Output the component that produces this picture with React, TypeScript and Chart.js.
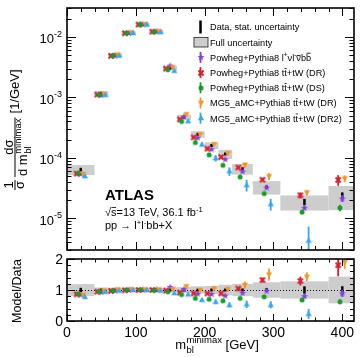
import React, { useEffect, useRef } from "react";
import { Chart, registerables } from "chart.js";

Chart.register(...registerables);

const FONT = '"Liberation Sans", Arimo, Arial, Helvetica, sans-serif';

// m_bl^minimax bin edges [GeV]
const binEdges = [0, 40, 60, 80, 100, 120, 140, 160, 180, 200, 220, 240, 270, 310, 380, 420];

// Unfolded normalised cross-section [1/GeV] with relative uncertainties
const dataXsec = [6.4e-5, 1.17e-3, 5.0e-3, 1.16e-2, 1.6e-2, 1.22e-2, 3.05e-3, 4.7e-4, 2.45e-4, 1.6e-4, 1.16e-4, 6.6e-5, 3.3e-5, 1.87e-5, 2.4e-5];
const dataStatRel = [0.07, 0.02, 0.015, 0.01, 0.01, 0.01, 0.015, 0.025, 0.03, 0.035, 0.04, 0.05, 0.06, 0.12, 0.12];
const dataTotalRel = [0.19, 0.08, 0.07, 0.07, 0.07, 0.07, 0.08, 0.1, 0.12, 0.13, 0.17, 0.2, 0.25, 0.28, 0.43];

// Predictions [1/GeV] and their relative MC statistical uncertainties
const powhegBb4l = [5.44e-5, 1.09e-3, 4.9e-3, 1.16e-2, 1.62e-2, 1.24e-2, 3.36e-3, 4.84e-4, 2.16e-4, 1.39e-4, 9.5e-5, 6.0e-5, 3.23e-5, 1.5e-5, 2.14e-5];
const powhegBb4lErr = [0.03, 0.01, 0.01, 0.01, 0.01, 0.01, 0.015, 0.02, 0.025, 0.03, 0.035, 0.04, 0.05, 0.08, 0.13];

const powhegDR = [5.5e-5, 1.11e-3, 4.85e-3, 1.15e-2, 1.6e-2, 1.22e-2, 2.99e-3, 4.32e-4, 2.18e-4, 1.42e-4, 1.03e-4, 6.93e-5, 4.36e-5, 2.41e-5, 4.32e-5];
const powhegDRErr = [0.03, 0.01, 0.01, 0.01, 0.01, 0.01, 0.015, 0.02, 0.025, 0.03, 0.035, 0.04, 0.06, 0.11, 0.2];

const powhegDS = [5.57e-5, 1.1e-3, 4.9e-3, 1.16e-2, 1.6e-2, 1.21e-2, 2.87e-3, 4.0e-4, 1.79e-4, 1.12e-4, 7.54e-5, 4.82e-5, 2.57e-5, 1.27e-5, 1.49e-5];
const powhegDSErr = [0.03, 0.01, 0.01, 0.01, 0.01, 0.01, 0.015, 0.02, 0.03, 0.035, 0.04, 0.05, 0.06, 0.08, 0.12];

const amcDR = [5.44e-5, 1.15e-3, 5.1e-3, 1.19e-2, 1.63e-2, 1.24e-2, 3.14e-3, 5.26e-4, 2.45e-4, 1.68e-4, 1.19e-4, 7.66e-5, 4.95e-5, 2.67e-5, 4.56e-5];
const amcDRErr = [0.04, 0.015, 0.01, 0.01, 0.01, 0.01, 0.02, 0.04, 0.05, 0.06, 0.07, 0.1, 0.13, 0.1, 0.12];

const amcDR2 = [4.99e-5, 1.1e-3, 4.9e-3, 1.16e-2, 1.6e-2, 1.2e-2, 2.75e-3, 4.04e-4, 1.67e-4, 9.9e-5, 6.0e-5, 3.56e-5, 1.72e-5, 4.3e-6, null];
const amcDR2Err = [0.05, 0.02, 0.01, 0.01, 0.01, 0.01, 0.02, 0.06, 0.08, 0.12, 0.16, 0.22, 0.22, 0.7, null];

// Axis ranges and tick labels
const X_MIN = 0;
const X_MAX = 417;
const Y_MIN = 3e-6;
const Y_MAX = 3e-2;
const xTickLabels = [0, 100, 200, 300, 400];
const yDecadeExps = [-5, -4, -3, -2];
const ratioTickLabels = [0, 1, 2];

type Seg = { t: string; sup?: boolean; sub?: boolean; bar?: number };

const MODELS: { name: Seg[]; values: (number | null)[]; err: (number | null)[]; color: string; marker: string; shift: number }[] = [
  {
    name: [{ t: "Powheg+Pythia8 l" }, { t: "+", sup: true }, { t: "νl" }, { t: "-", sup: true }, { t: "ν", bar: 0.62 }, { t: "b" }, { t: "b", bar: 0.86 }],
    values: powhegBb4l, err: powhegBb4lErr, color: "#8040dd", marker: "star", shift: 0,
  },
  {
    name: [{ t: "Powheg+Pythia8 t" }, { t: "t", bar: 0.86 }, { t: "+tW (DR)" }],
    values: powhegDR, err: powhegDRErr, color: "#d8202f", marker: "cross", shift: -6,
  },
  {
    name: [{ t: "Powheg+Pythia8 t" }, { t: "t", bar: 0.86 }, { t: "+tW (DS)" }],
    values: powhegDS, err: powhegDSErr, color: "#1c9a2a", marker: "circle", shift: -3.5,
  },
  {
    name: [{ t: "MG5_aMC+Pythia8 t" }, { t: "t", bar: 0.86 }, { t: "+tW (DR)" }],
    values: amcDR, err: amcDRErr, color: "#f0962a", marker: "triDown", shift: 3.5,
  },
  {
    name: [{ t: "MG5_aMC+Pythia8 t" }, { t: "t", bar: 0.86 }, { t: "+tW (DR2)" }],
    values: amcDR2, err: amcDR2Err, color: "#3aa6ee", marker: "triUp", shift: 6,
  },
];

const BOX_COLOR = "#cdcdcd";

function fontStr(size: number, bold = false) {
  return `${bold ? "bold " : ""}${size}px ${FONT}`;
}

function drawRich(ctx: CanvasRenderingContext2D, x: number, y: number, segs: Seg[], size: number) {
  let cx = x;
  for (const s of segs) {
    const sz = s.sup || s.sub ? size * 0.7 : size;
    ctx.font = fontStr(sz);
    const dy = s.sup ? -size * 0.4 : s.sub ? size * 0.25 : 0;
    const w = ctx.measureText(s.t).width;
    ctx.fillText(s.t, cx, y + dy);
    if (s.bar) {
      ctx.fillRect(cx + w * 0.08, y + dy - s.bar * sz, w * 0.84, Math.max(0.8, sz * 0.07));
    }
    cx += w;
  }
  return cx - x;
}

function makeMarker(kind: string, color: string): HTMLCanvasElement {
  const n = 10;
  const c = document.createElement("canvas");
  c.width = n;
  c.height = n;
  const g = c.getContext("2d")!;
  const m = n / 2;
  g.fillStyle = color;
  g.strokeStyle = color;
  g.beginPath();
  if (kind === "star") {
    const R = 3.7, r = 1.5;
    for (let i = 0; i < 10; i++) {
      const ang = -Math.PI / 2 + (i * Math.PI) / 5;
      const rr = i % 2 === 0 ? R : r;
      const px = m + rr * Math.cos(ang), py = m + 0.3 + rr * Math.sin(ang);
      if (i === 0) g.moveTo(px, py);
      else g.lineTo(px, py);
    }
    g.closePath();
    g.fill();
  } else if (kind === "cross") {
    g.lineWidth = 2.2;
    const h = 2.5;
    g.moveTo(m - h, m - h);
    g.lineTo(m + h, m + h);
    g.moveTo(m + h, m - h);
    g.lineTo(m - h, m + h);
    g.stroke();
  } else if (kind === "circle") {
    g.arc(m, m, 2.5, 0, Math.PI * 2);
    g.fill();
  } else if (kind === "triUp") {
    g.moveTo(m, m - 3.3);
    g.lineTo(m + 3.1, m + 2.3);
    g.lineTo(m - 3.1, m + 2.3);
    g.closePath();
    g.fill();
  } else {
    g.moveTo(m, m + 3.3);
    g.lineTo(m + 3.1, m - 2.3);
    g.lineTo(m - 3.1, m - 2.3);
    g.closePath();
    g.fill();
  }
  return c;
}

// Vertical error bars, drawn just beneath each dataset's markers
const errorBarPlugin = {
  id: "errorBars",
  beforeDatasetDraw(chart: any, args: any) {
    const ds = chart.data.datasets[args.index];
    if (!ds.errColor) return;
    const meta = args.meta;
    const ys = chart.scales.y;
    const a = chart.chartArea;
    const ctx = chart.ctx;
    ctx.save();
    ctx.beginPath();
    ctx.rect(a.left, a.top, a.right - a.left, a.bottom - a.top);
    ctx.clip();
    ctx.fillStyle = ds.errColor;
    meta.data.forEach((el: any, i: number) => {
      const p = ds.data[i];
      let top = ys.getPixelForValue(p.hi);
      let bot = ys.getPixelForValue(p.lo);
      const minHalf = ds.minHalf || 0;
      if (bot - top < 2 * minHalf) {
        top = el.y - minHalf;
        bot = el.y + minHalf;
      }
      ctx.fillRect(el.x - ds.errWidth / 2, top, ds.errWidth, bot - top);
    });
    ctx.restore();
  },
};

function boxesPlugin(isRatio: boolean) {
  return {
    id: "uncBoxes",
    beforeDatasetsDraw(chart: any) {
      const { ctx, chartArea: a, scales } = chart;
      const xs = scales.x, ys = scales.y;
      ctx.save();
      ctx.beginPath();
      ctx.rect(a.left, a.top, a.right - a.left, a.bottom - a.top);
      ctx.clip();
      ctx.fillStyle = BOX_COLOR;
      for (let i = 0; i < dataXsec.length; i++) {
        const c = isRatio ? 1 : dataXsec[i];
        const x1 = xs.getPixelForValue(binEdges[i]);
        const x2 = xs.getPixelForValue(binEdges[i + 1]);
        const y1 = ys.getPixelForValue(c * (1 + dataTotalRel[i]));
        const y2 = ys.getPixelForValue(c * (1 - dataTotalRel[i]));
        ctx.fillRect(x1, y1, x2 - x1, y2 - y1);
      }
      if (isRatio) {
        const py = Math.round(ys.getPixelForValue(1)) + 0.5;
        ctx.strokeStyle = "#000";
        ctx.lineWidth = 1;
        ctx.setLineDash([1, 2]);
        ctx.beginPath();
        ctx.moveTo(a.left, py);
        ctx.lineTo(a.right, py);
        ctx.stroke();
      }
      ctx.restore();
    },
  };
}

function xTicks(ctx: CanvasRenderingContext2D, xs: any, a: any, major: number, minor: number) {
  for (let v = X_MIN; v <= X_MAX; v += 20) {
    const px = Math.round(xs.getPixelForValue(v)) + 0.5;
    const len = v % 100 === 0 ? major : minor;
    ctx.moveTo(px, a.bottom);
    ctx.lineTo(px, a.bottom - len);
    ctx.moveTo(px, a.top);
    ctx.lineTo(px, a.top + len);
  }
}

function mainDecor(markers: HTMLCanvasElement[]) {
  return {
    id: "mainDecor",
    afterDraw(chart: any) {
      const { ctx, chartArea: a, scales } = chart;
      const xs = scales.x, ys = scales.y;
      ctx.save();
      ctx.strokeStyle = "#000";
      ctx.fillStyle = "#000";
      ctx.textBaseline = "alphabetic";
      ctx.textAlign = "left";

      // ticks
      ctx.lineWidth = 1;
      ctx.beginPath();
      xTicks(ctx, xs, a, 8, 4);
      for (let d = -6; d <= -2; d++) {
        for (let k = 1; k <= 9; k++) {
          const v = k * Math.pow(10, d);
          if (v < Y_MIN * 0.999 || v > Y_MAX * 1.001) continue;
          const py = Math.round(ys.getPixelForValue(v)) + 0.5;
          const len = k === 1 ? 9 : 4.5;
          ctx.moveTo(a.left, py);
          ctx.lineTo(a.left + len, py);
          ctx.moveTo(a.right, py);
          ctx.lineTo(a.right - len, py);
        }
      }
      ctx.stroke();
      ctx.lineWidth = 1.6;
      ctx.strokeRect(a.left, a.top, a.right - a.left, a.bottom - a.top);

      // y tick labels 10^n
      for (const e of yDecadeExps) {
        const py = ys.getPixelForValue(Math.pow(10, e));
        ctx.font = fontStr(9);
        const ex = String(e);
        const we = ctx.measureText(ex).width;
        ctx.font = fontStr(13);
        const wb = ctx.measureText("10").width;
        const right = 62;
        ctx.fillText("10", right - we - wb, py + 6.3);
        ctx.font = fontStr(9);
        ctx.fillText(ex, right - we, py);
      }

      // y title: 1/σ dσ/dm [1/GeV]
      {
        const F = 13, S = 9.5;
        ctx.save();
        ctx.translate(19, 190);
        ctx.rotate(-Math.PI / 2);
        const bar = -4;
        let u = 0;
        ctx.font = fontStr(F);
        const w1 = ctx.measureText("1").width, wS = ctx.measureText("σ").width;
        const fw1 = Math.max(w1, wS) + 2;
        ctx.fillText("1", u + (fw1 - w1) / 2, bar - 2.5);
        ctx.fillText("σ", u + (fw1 - wS) / 2, bar + 2.5 + 0.53 * F);
        ctx.fillRect(u, bar - 0.5, fw1, 1);
        u += fw1 + 3;
        const wn = ctx.measureText("dσ").width;
        const wdm = ctx.measureText("d m").width;
        ctx.font = fontStr(S);
        const wsp = Math.max(ctx.measureText("minimax").width, ctx.measureText("bl").width);
        const wden = wdm + 0.5 + wsp;
        const fw2 = Math.max(wn, wden) + 2;
        const denBase = bar + 2.5 + 0.72 * F;
        const dx = u + (fw2 - wden) / 2;
        ctx.font = fontStr(F);
        ctx.fillText("d m", dx, denBase);
        ctx.fillText("dσ", u + (fw2 - wn) / 2, bar - 2.5);
        ctx.font = fontStr(S);
        ctx.fillText("minimax", dx + wdm + 0.5, denBase - 0.45 * F);
        ctx.fillText("bl", dx + wdm + 0.5, denBase + 0.28 * F);
        ctx.fillRect(u, bar - 0.5, fw2, 1);
        u += fw2 + 4;
        ctx.font = fontStr(F);
        ctx.fillText("[1/GeV]", u, 0);
        ctx.restore();
      }

      // ATLAS label
      ctx.font = fontStr(15, true);
      ctx.fillText("ATLAS", 105, 200);
      drawRich(ctx, 105, 216, [{ t: "√" }, { t: "s", bar: 0.8 }, { t: "=13 TeV, 36.1 fb" }, { t: "-1", sup: true }], 11);
      drawRich(ctx, 105, 229, [{ t: "pp → l" }, { t: "+", sup: true }, { t: "l" }, { t: "-", sup: true }, { t: "bb+X" }], 11);

      // legend
      const LX = 200.5, TX = 210;
      const rows = [27, 42.2, 57.4, 72.6, 87.8, 103, 118.2];
      const LS = 9.2;
      ctx.fillStyle = "#000";
      ctx.fillRect(LX - 1.25, rows[0] - 6.5, 2.5, 13);
      drawRich(ctx, TX, rows[0] + 3.3, [{ t: "Data, stat. uncertainty" }], LS);
      ctx.fillStyle = BOX_COLOR;
      ctx.fillRect(194, rows[1] - 4.8, 14, 9.6);
      ctx.strokeStyle = "#333";
      ctx.lineWidth = 0.9;
      ctx.strokeRect(194, rows[1] - 4.8, 14, 9.6);
      ctx.fillStyle = "#000";
      drawRich(ctx, TX, rows[1] + 3.3, [{ t: "Full uncertainty" }], LS);
      MODELS.forEach((m, k) => {
        const y = rows[k + 2];
        ctx.fillStyle = m.color;
        ctx.fillRect(LX - 0.9, y - 5.5, 1.8, 11);
        ctx.drawImage(markers[k], Math.round(LX) - 5, Math.round(y) - 5);
        ctx.fillStyle = "#000";
        drawRich(ctx, TX, y + 3.3, m.name, LS);
      });
      ctx.restore();
    },
  };
}

const ratioDecor = {
  id: "ratioDecor",
  afterDraw(chart: any) {
    const { ctx, chartArea: a, scales } = chart;
    const xs = scales.x, ys = scales.y;
    ctx.save();
    ctx.strokeStyle = "#000";
    ctx.fillStyle = "#000";
    ctx.textBaseline = "alphabetic";
    ctx.lineWidth = 1;
    ctx.beginPath();
    xTicks(ctx, xs, a, 7, 3.5);
    for (let i = 0; i <= 10; i++) {
      const v = i * 0.2;
      const py = Math.round(ys.getPixelForValue(v)) + 0.5;
      const len = i % 5 === 0 ? 8 : 4;
      ctx.moveTo(a.left, py);
      ctx.lineTo(a.left + len, py);
      ctx.moveTo(a.right, py);
      ctx.lineTo(a.right - len, py);
    }
    ctx.stroke();
    ctx.lineWidth = 1.6;
    ctx.strokeRect(a.left, a.top, a.right - a.left, a.bottom - a.top);

    // tick labels
    ctx.font = fontStr(14);
    ctx.textAlign = "right";
    for (const v of ratioTickLabels) {
      ctx.fillText(String(v), 63, ys.getPixelForValue(v) + 5);
    }
    ctx.textAlign = "center";
    for (const v of xTickLabels) {
      ctx.fillText(String(v), xs.getPixelForValue(v), 337);
    }
    ctx.textAlign = "left";

    // x title
    {
      const F = 13, S = 9.5;
      ctx.font = fontStr(F);
      const wm = ctx.measureText("m").width;
      const wg = ctx.measureText(" [GeV]").width;
      ctx.font = fontStr(S);
      const wsp = Math.max(ctx.measureText("minimax").width, ctx.measureText("bl").width);
      const total = wm + 0.5 + wsp + wg;
      const x0 = 217 - total / 2;
      const base = 349;
      ctx.font = fontStr(F);
      ctx.fillText("m", x0, base);
      ctx.fillText(" [GeV]", x0 + wm + 0.5 + wsp, base);
      ctx.font = fontStr(S);
      ctx.fillText("minimax", x0 + wm + 0.5, base - 0.5 * F);
      ctx.fillText("bl", x0 + wm + 0.5, base + 0.3 * F);
    }

    // y title
    ctx.save();
    ctx.translate(21, 291);
    ctx.rotate(-Math.PI / 2);
    ctx.textAlign = "center";
    ctx.font = fontStr(12.5);
    ctx.fillText("Model/Data", 0, 0);
    ctx.restore();
    ctx.restore();
  },
};

function baseOptions(padding: any, yScale: any) {
  return {
    animation: false,
    responsive: false,
    devicePixelRatio: 1,
    events: [],
    layout: { padding },
    scales: {
      x: { type: "linear", min: X_MIN, max: X_MAX, display: false },
      y: { ...yScale, display: false },
    },
    plugins: { legend: { display: false }, tooltip: { enabled: false } },
  };
}

export default function App() {
  const mainRef = useRef<HTMLCanvasElement>(null);
  const ratioRef = useRef<HTMLCanvasElement>(null);

  useEffect(() => {
    const markers = MODELS.map((m) => makeMarker(m.marker, m.color));
    const centers = binEdges.slice(0, -1).map((e, i) => (e + binEdges[i + 1]) / 2);

    const mainSets: any[] = [
      {
        label: "Data",
        data: centers.map((x, i) => ({ x, y: dataXsec[i], lo: dataXsec[i] * (1 - dataStatRel[i]), hi: dataXsec[i] * (1 + dataStatRel[i]) })),
        pointRadius: 0,
        errColor: "#000",
        errWidth: 2.5,
        minHalf: 1.5,
        order: 10,
      },
    ];
    const ratioSets: any[] = [
      {
        label: "Data",
        data: centers.map((x, i) => ({ x, y: 1, lo: 1 - dataStatRel[i], hi: 1 + dataStatRel[i] })),
        pointRadius: 0,
        errColor: "#000",
        errWidth: 2.5,
        minHalf: 1.5,
        order: 10,
      },
    ];
    MODELS.forEach((m, k) => {
      const pts: any[] = [];
      const rpts: any[] = [];
      m.values.forEach((v, i) => {
        if (v == null) return;
        const e = m.err[i] as number;
        pts.push({ x: centers[i] + m.shift, y: v, lo: v * (1 - e), hi: v * (1 + e) });
        const r = v / dataXsec[i];
        rpts.push({ x: centers[i] + m.shift, y: r, lo: r * (1 - e), hi: r * (1 + e) });
      });
      const common = { pointStyle: markers[k], pointRadius: 3, errColor: m.color, errWidth: 1.8, order: 5 - k };
      mainSets.push({ label: `m${k}`, data: pts, ...common });
      ratioSets.push({ label: `m${k}`, data: rpts, ...common });
    });

    const main = new Chart(mainRef.current!, {
      type: "scatter",
      data: { datasets: mainSets },
      options: baseOptions({ left: 67, top: 8, right: 8, bottom: 107 }, { type: "logarithmic", min: Y_MIN, max: Y_MAX }) as any,
      plugins: [boxesPlugin(false), errorBarPlugin, mainDecor(markers)],
    });
    const ratio = new Chart(ratioRef.current!, {
      type: "scatter",
      data: { datasets: ratioSets },
      options: baseOptions({ left: 67, top: 259, right: 8, bottom: 36 }, { type: "linear", min: 0, max: 2 }) as any,
      plugins: [boxesPlugin(true), errorBarPlugin, ratioDecor],
    });
    return () => {
      main.destroy();
      ratio.destroy();
    };
  }, []);

  const cs: React.CSSProperties = { position: "absolute", left: 0, top: 0, display: "block" };
  return (
    <div style={{ position: "absolute", left: 0, top: 0, width: 362, height: 357, background: "#fff" }}>
      <canvas ref={mainRef} width={362} height={357} style={cs} />
      <canvas ref={ratioRef} width={362} height={357} style={cs} />
    </div>
  );
}
